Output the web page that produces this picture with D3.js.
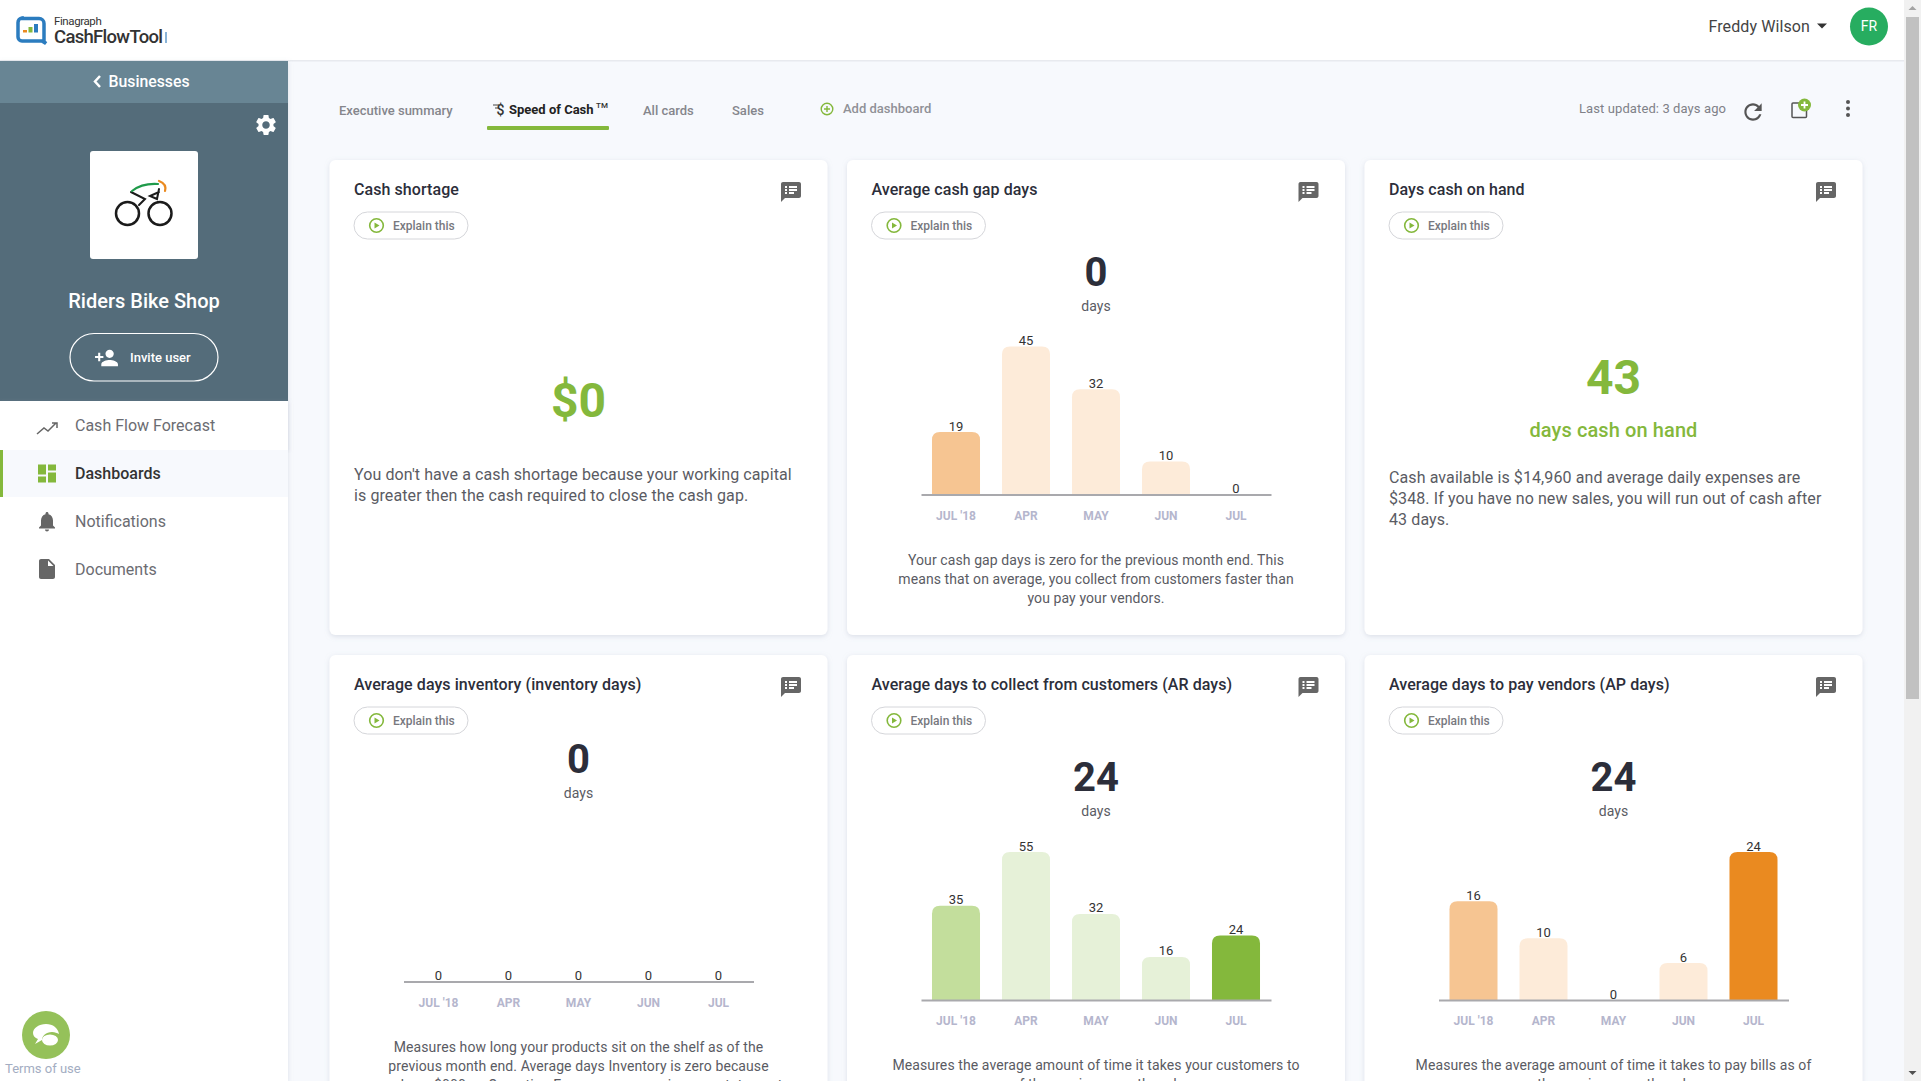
<!DOCTYPE html>
<html>
<head>
<meta charset="utf-8">
<script src="https://cdn.jsdelivr.net/npm/d3@7"></script>
<style>
  html, body { margin: 0; padding: 0; background: #f7f9fd; overflow: hidden; }
  svg { display: block; font-family: Roboto, sans-serif; }
</style>
</head>
<body>
<div class="canvas"></div>
<script>
// chart values
const months = ["JUL '18", "APR", "MAY", "JUN", "JUL"]
const cashGapDays = [19, 45, 32, 10, 0]
const inventoryDays = [0, 0, 0, 0, 0]
const arDays = [35, 55, 32, 16, 24]
const apDays = [16, 10, 0, 6, 24]

// page copy
const tabLabels = ["Executive summary", "Speed of Cash", "All cards", "Sales"]
const menuLabels = ["Cash Flow Forecast", "Dashboards", "Notifications", "Documents"]
const shortageCopy = ["You don't have a cash shortage because your working capital", "is greater then the cash required to close the cash gap."]
const onHandCopy = ["Cash available is $14,960 and average daily expenses are", "$348. If you have no new sales, you will run out of cash after", "43 days."]
const gapCopy = ["Your cash gap days is zero for the previous month end. This", "means that on average, you collect from customers faster than", "you pay your vendors."]
const inventoryCopy = ["Measures how long your products sit on the shelf as of the", "previous month end. Average days Inventory is zero because", "you have $000 as Operating Expenses on your income statement"]
const arCopy = ["Measures the average amount of time it takes your customers to", "of the previous month end."]
const apCopy = ["Measures the average amount of time it takes to pay bills as of", "the previous month end."]

/**
 * Dimensions
 */
const dims = { width: 1921, height: 1081 }
const colX = [329.5, 847, 1364.5]
const cardW = 498
const rowY = [160, 655]
const cardH = [475, 500]

const colors = {
    ink: "#2c2e3a",
    body: "#5a5b63",
    green: "#84b83c",
    axis: "#a9a9ad",
    tick: "#b5b6cd"
}
const orangeBars = { first: "#f6c592", mid: "#fdebd9", last: "#ea8a20" }
const greenBars = { first: "#c3de9c", mid: "#e6f1d8", last: "#84b83c" }

const icons = {
    gear: "M19.14 12.94c.04-.3.06-.61.06-.94 0-.32-.02-.64-.07-.94l2.03-1.58c.18-.14.23-.41.12-.61l-1.92-3.32c-.12-.22-.37-.29-.59-.22l-2.39.96c-.5-.38-1.03-.7-1.62-.94l-.36-2.54c-.04-.24-.24-.41-.48-.41h-3.84c-.24 0-.43.17-.47.41l-.36 2.54c-.59.24-1.13.57-1.62.94l-2.39-.96c-.22-.08-.47 0-.59.22L2.74 8.87c-.12.21-.08.47.12.61l2.03 1.58c-.05.3-.09.63-.09.94s.02.64.07.94l-2.03 1.58c-.18.14-.23.41-.12.61l1.92 3.32c.12.22.37.29.59.22l2.39-.96c.5.38 1.03.7 1.62.94l.36 2.54c.05.24.24.41.48.41h3.84c.24 0 .44-.17.47-.41l.36-2.54c.59-.24 1.13-.56 1.62-.94l2.39.96c.22.08.47 0 .59-.22l1.92-3.32c.12-.22.07-.47-.12-.61l-2.01-1.58zM12 15.6c-1.98 0-3.6-1.62-3.6-3.6s1.62-3.6 3.6-3.6 3.6 1.62 3.6 3.6-1.62 3.6-3.6 3.6z",
    personAdd: "M15 12c2.21 0 4-1.79 4-4s-1.79-4-4-4-4 1.79-4 4 1.79 4 4 4zm-9-2V7H4v3H1v2h3v3h2v-3h3v-2H6zm9 4c-2.67 0-8 1.34-8 4v2h16v-2c0-2.66-5.33-4-8-4z",
    bell: "M12 22c1.1 0 2-.9 2-2h-4c0 1.1.89 2 2 2zm6-6v-5c0-3.07-1.64-5.64-4.5-6.32V4c0-.83-.67-1.5-1.5-1.5s-1.5.67-1.5 1.5v.68C7.63 5.36 6 7.92 6 11v5l-2 2v1h16v-1l-2-2z",
    doc: "M14 2H6c-1.1 0-1.99.9-1.99 2L4 20c0 1.1.89 2 1.99 2H18c1.1 0 2-.9 2-2V8l-6-6zm-1 7V3.500L18.500 9H13z",
    dashboard: "M3 13h8V3H3v10zm0 8h8v-6H3v6zm10 0h8V11h-8v10zm0-18v6h8V3h-8z",
    refresh: "M17.65 6.35C16.2 4.9 14.21 4 12 4c-4.42 0-7.99 3.58-7.99 8s3.57 8 7.99 8c3.73 0 6.84-2.55 7.73-6h-2.08c-.82 2.33-3.04 4-5.65 4-3.31 0-6-2.69-6-6s2.69-6 6-6c1.66 0 3.14.69 4.22 1.78L13 11h7V4l-2.35 2.35z",
    notes: "M20 2H4c-1.1 0-1.99.9-1.99 2L2 22l4-4h14c1.1 0 2-.9 2-2V4c0-1.1-.9-2-2-2zM8 14H6v-2h2v2zm0-3H6V9h2v2zm0-3H6V6h2v2zm7 6h-5v-2h5v2zm3-3h-8V9h8v2zm0-3h-8V6h8v2z"
}

const svg = d3.select(".canvas")
    .append("svg")
    .attr("width", dims.width)
    .attr("height", dims.height)

const defs = svg.append("defs")
const shadow = defs.append("filter").attr("id", "card-shadow")
    .attr("x", "-5%").attr("y", "-5%").attr("width", "110%").attr("height", "110%")
shadow.append("feDropShadow")
    .attr("dx", 0).attr("dy", 1.5).attr("stdDeviation", 2.5)
    .attr("flood-color", "#9aa3b5").attr("flood-opacity", 0.3)

svg.append("rect").attr("width", dims.width).attr("height", dims.height).attr("fill", "#f7f9fd")

// small helpers
const label = (parent, x, y, str, size, fill, weight = 400, anchor = "start") =>
    parent.append("text")
        .attr("x", x)
        .attr("y", y)
        .attr("dy", "0.35em")
        .attr("font-size", size)
        .attr("font-weight", weight)
        .attr("fill", fill)
        .attr("text-anchor", anchor)
        .text(str)

const icon = (parent, d, cx, cy, size, fill) =>
    parent.append("path")
        .attr("d", d)
        .attr("fill", fill)
        .attr("transform", `translate(${cx - size / 2}, ${cy - size / 2}) scale(${size / 24})`)

const copyLines = (parent, lines, x, y, lineH, size, anchor) =>
    lines.forEach((line, i) => {
        label(parent, x, y + i * lineH, line, size, colors.body, 400, anchor)
            .attr("letter-spacing", 0.1)
    })

/**
 * Top bar
 */
const topBar = svg.append("g")
topBar.append("rect").attr("width", dims.width).attr("height", 60).attr("fill", "#fff")
topBar.append("rect").attr("y", 60).attr("width", dims.width).attr("height", 1.5).attr("fill", "#e8eaef")

// logo
topBar.append("path")
    .attr("d", "M22 18.5h17a5 5 0 0 1 5 5v18l2 2l-4 -2.5h-20a4 4 0 0 1 -4 -4v-14.500a4.500 4.500 0 0 1 4 -4.500z")
    .attr("fill", "none").attr("stroke", "#2b7cbf").attr("stroke-width", 3.5)
topBar.append("rect").attr("x", 23).attr("y", 30).attr("width", 4).attr("height", 2.500).attr("fill", "#ea8a20")
topBar.append("rect").attr("x", 28.500).attr("y", 27).attr("width", 4).attr("height", 5.500).attr("fill", "#84b83c")
topBar.append("rect").attr("x", 34).attr("y", 24).attr("width", 4).attr("height", 8.500).attr("fill", "#2b7cbf")
label(topBar, 54, 21, "Finagraph", 11.5, "#333").attr("letter-spacing", -0.4)
label(topBar, 54, 37, "CashFlowTool", 18.5, "#333", 500).attr("letter-spacing", -0.7)
topBar.append("rect").attr("x", 165).attr("y", 32).attr("width", 2).attr("height", 11).attr("fill", "#8ab4d8")

label(topBar, 1708.5, 26, "Freddy Wilson", 16, "#444").attr("letter-spacing", 0.1)
topBar.append("path").attr("d", "M1817 23.500h10l-5 5z").attr("fill", "#333")
topBar.append("circle").attr("cx", 1869).attr("cy", 26.500).attr("r", 19).attr("fill", "#27ad60")
label(topBar, 1869, 26.500, "FR", 14, "#fff", 400, "middle")

/**
 * Sidebar
 */
const side = svg.append("g")
side.append("rect").attr("y", 61).attr("width", 288).attr("height", dims.height - 61)
    .attr("fill", "#fff").attr("filter", "url(#card-shadow)")
side.append("rect").attr("y", 61).attr("width", 288).attr("height", 42).attr("fill", "#688594")
side.append("rect").attr("y", 103).attr("width", 288).attr("height", 298).attr("fill", "#546c7a")
side.append("path").attr("d", "M100 76l-5 5.500l5 5.500").attr("fill", "none")
    .attr("stroke", "#fff").attr("stroke-width", 2.500)
label(side, 108.500, 81.500, "Businesses", 15.8, "#fff", 500)
icon(side, icons.gear, 266, 125, 25, "#fff")

side.append("rect").attr("x", 90).attr("y", 151).attr("width", 108).attr("height", 108).attr("rx", 3).attr("fill", "#fff")
const bike = side.append("g").attr("fill", "none").attr("stroke-linecap", "round")
bike.append("circle").attr("cx", 127.500).attr("cy", 213.500).attr("r", 11.500).attr("stroke", "#1b1b1b").attr("stroke-width", 2.500)
bike.append("circle").attr("cx", 160).attr("cy", 213.500).attr("r", 11.500).attr("stroke", "#1b1b1b").attr("stroke-width", 2.500)
bike.append("path").attr("d", "M131 192l14 7l-6 6M159 189l-2 10l-7 -3l9 -4").attr("stroke", "#1b1b1b").attr("stroke-width", 2)
bike.append("path").attr("d", "M132 191q10 -8 26 -7").attr("stroke", "#1f9a4a").attr("stroke-width", 2.200)
bike.append("path").attr("d", "M159 181q8 3 6 10").attr("stroke", "#ea8a20").attr("stroke-width", 2.200)

label(side, 144, 300.500, "Riders Bike Shop", 20, "#fff", 500, "middle")
side.append("rect").attr("x", 70).attr("y", 333.500).attr("width", 148).attr("height", 47.500).attr("rx", 24)
    .attr("fill", "none").attr("stroke", "#fff").attr("stroke-width", 1.200)
icon(side, icons.personAdd, 106.500, 358, 25, "#fff")
label(side, 130, 357, "Invite user", 13, "#fff", 500)

// menu rows
side.append("rect").attr("y", 401).attr("width", 288).attr("height", 49).attr("fill", "#fff").attr("filter", "url(#card-shadow)")
side.append("rect").attr("y", 450).attr("width", 288).attr("height", 47).attr("fill", "#f7f9fd")
side.append("rect").attr("y", 450).attr("width", 3).attr("height", 47).attr("fill", colors.green)

const menuY = d3.scalePoint().domain(menuLabels).range([425, 569])
menuLabels.forEach((name, i) => {
    label(side, 75, menuY(name), name, 16, i == 1 ? "#333" : "#6b6c72", i == 1 ? 500 : 400)
})
side.append("path").attr("d", "M37 434l7 -6l4 3l8 -8M52 423h5v5")
    .attr("fill", "none").attr("stroke", "#666").attr("stroke-width", 1.500)
icon(side, icons.dashboard, 47, 473.500, 24, colors.green)
icon(side, icons.bell, 47, 521.500, 24, "#666")
icon(side, icons.doc, 47, 569, 24, "#666")

side.append("circle").attr("cx", 46).attr("cy", 1035).attr("r", 24).attr("fill", "#95c15a")
side.append("path").attr("d", "M46 1024c-7 0 -13 4 -13 9c0 3 2 5 5 6l-3 5l7 -4c0 -4 4 -8 10 -8c3 0 5 1 7 2c-1 -6 -6 -10 -13 -10z").attr("fill", "#fff")
side.append("ellipse").attr("cx", 50).attr("cy", 1040).attr("rx", 8).attr("ry", 5.500).attr("fill", "#fff")
label(side, 5, 1068, "Terms of use", 13, "#a3adc2")

/**
 * Tabs row
 */
const tabs = svg.append("g")
const tabX = [339, 509, 643, 732]
tabLabels.forEach((name, i) => {
    label(tabs, tabX[i], i == 1 ? 109 : 110, name, 13, i == 1 ? "#222" : "#85868c", i == 1 ? 700 : 500)
})
tabs.append("path").attr("d", "M493 105h6M495 108h4").attr("stroke", "#444").attr("stroke-width", 1)
label(tabs, 500.500, 110, "$", 14, "#333", 500, "middle")
label(tabs, 596, 105, "TM", 8, "#333", 500)
tabs.append("rect").attr("x", 487).attr("y", 126).attr("width", 122).attr("height", 4).attr("rx", 1).attr("fill", colors.green)
tabs.append("circle").attr("cx", 827).attr("cy", 109).attr("r", 5.800).attr("fill", "none").attr("stroke", colors.green).attr("stroke-width", 1.400)
tabs.append("path").attr("d", "M824 109h6M827 106v6").attr("stroke", colors.green).attr("stroke-width", 1.400)
label(tabs, 843, 108.500, "Add dashboard", 13, "#909197", 500)

label(tabs, 1579, 108.500, "Last updated: 3 days ago", 13, "#808188").attr("letter-spacing", 0.1)
icon(tabs, icons.refresh, 1753, 112, 26, "#555")
tabs.append("rect").attr("x", 1792).attr("y", 103).attr("width", 14.500).attr("height", 14.500).attr("rx", 1)
    .attr("fill", "none").attr("stroke", "#555").attr("stroke-width", 1.500)
tabs.append("circle").attr("cx", 1804.500).attr("cy", 105).attr("r", 6.500).attr("fill", colors.green)
tabs.append("path").attr("d", "M1801 105h7M1804.500 101.500v7").attr("stroke", "#fff").attr("stroke-width", 1.800)
d3.range(3).forEach(i => {
    tabs.append("circle").attr("cx", 1848).attr("cy", 102 + i * 6.500).attr("r", 2).attr("fill", "#555")
})

/**
 * Cards
 */
const drawCard = (col, row, title) => {
    const x = colX[col]
    const y = rowY[row]
    const card = svg.append("g")
    card.append("rect")
        .attr("x", x).attr("y", y)
        .attr("width", cardW).attr("height", cardH[row])
        .attr("rx", 6)
        .attr("fill", "#fff")
        .attr("filter", "url(#card-shadow)")

    label(card, x + 24.5, y + 29.500, title, 16, colors.ink, 500).attr("letter-spacing", 0.07)
    icon(card, icons.notes, x + 461.5, y + 32, 24, "#666")

    // explain pill
    card.append("rect")
        .attr("x", x + 24.500).attr("y", y + 52)
        .attr("width", 114).attr("height", 27)
        .attr("rx", 13.5)
        .attr("fill", "#fff").attr("stroke", "#d5d6da")
    card.append("circle").attr("cx", x + 47).attr("cy", y + 65.500).attr("r", 6.800)
        .attr("fill", "none").attr("stroke", colors.green).attr("stroke-width", 1.600)
    card.append("path")
        .attr("d", `M${x + 45} ${y + 62.500}l5 3l-5 3z`)
        .attr("fill", colors.green)
    label(card, x + 63.500, y + 65.500, "Explain this", 12, "#77787e", 500)
    return card
}

// draws one bar chart through its scales and axis
const drawBars = (card, col, axisY, series, palette) => {
    const left = colX[col] + 74
    const x = d3.scaleBand()
        .domain(months)
        .range([left, left + 350])
        .paddingInner(0.314)
        .paddingOuter(0.157)
    const y = d3.scaleLinear()
        .domain([0, d3.max(series) || 1])
        .range([axisY, axisY - 148])

    const fill = i => i == 0 ? palette.first : i == series.length - 1 ? palette.last : palette.mid
    const r = 8

    card.selectAll(".bar")
        .data(series.map((v, i) => ({ v, i, name: months[i] })).filter(d => d.v > 0))
        .enter()
        .append("path")
        .attr("class", "bar")
        .attr("fill", d => fill(d.i))
        .attr("d", d => {
            const px = x(d.name)
            const w = x.bandwidth()
            const top = y(d.v)
            return `M${px} ${axisY}V${top + r}Q${px} ${top} ${px + r} ${top}H${px + w - r}Q${px + w} ${top} ${px + w} ${top + r}V${axisY}Z`
        })

    card.selectAll(".value")
        .data(series)
        .enter()
        .append("text")
        .attr("class", "value")
        .attr("x", (d, i) => x(months[i]) + x.bandwidth() / 2)
        .attr("y", d => y(d) - 1.500)
        .attr("text-anchor", "middle")
        .attr("font-size", 13)
        .attr("fill", "#333")
        .text(d => d)

    const axis = card.append("g")
        .attr("transform", `translate(0, ${axisY})`)
        .call(d3.axisBottom(x).tickSize(0).tickPadding(16.5))
    axis.select(".domain").attr("stroke", colors.axis).attr("stroke-width", 2)
    axis.selectAll("text")
        .attr("font-family", "Roboto, sans-serif")
        .attr("font-size", 12)
        .attr("font-weight", 700)
        .attr("fill", colors.tick)
}

const bigNumber = (card, col, y, str) => {
    const cx = colX[col] + cardW / 2
    label(card, cx, y, str, 40, colors.ink, 700, "middle")
    label(card, cx, y + 35, "days", 14, colors.body, 400, "middle")
}

const center = col => colX[col] + cardW / 2

// Cash shortage
const shortageCard = drawCard(0, 0, "Cash shortage")
label(shortageCard, center(0), 400.500, "$0", 48, colors.green, 700, "middle")
copyLines(shortageCard, shortageCopy, colX[0] + 24.5, 474, 21, 16, "start")

// Average cash gap days
const gapCard = drawCard(1, 0, "Average cash gap days")
bigNumber(gapCard, 1, 271.500, "0")
drawBars(gapCard, 1, 494.500, cashGapDays, orangeBars)
copyLines(gapCard, gapCopy, center(1), 560, 19, 14, "middle")

// Days cash on hand
const handCard = drawCard(2, 0, "Days cash on hand")
label(handCard, center(2), 377, "43", 48, colors.green, 700, "middle")
label(handCard, center(2), 430, "days cash on hand", 20, colors.green, 500, "middle").attr("letter-spacing", 0.1)
copyLines(handCard, onHandCopy, colX[2] + 24.5, 477, 21, 16, "start")

// Average days inventory
const inventoryCard = drawCard(0, 1, "Average days inventory (inventory days)")
bigNumber(inventoryCard, 0, 758.500, "0")
drawBars(inventoryCard, 0, 981.500, inventoryDays, orangeBars)
copyLines(inventoryCard, inventoryCopy, center(0), 1047, 19, 14, "middle")

// Average days to collect from customers
const arCard = drawCard(1, 1, "Average days to collect from customers (AR days)")
bigNumber(arCard, 1, 776.500, "24")
drawBars(arCard, 1, 1000, arDays, greenBars)
copyLines(arCard, arCopy, center(1), 1065, 19, 14, "middle")

// Average days to pay vendors
const apCard = drawCard(2, 1, "Average days to pay vendors (AP days)")
bigNumber(apCard, 2, 776.500, "24")
drawBars(apCard, 2, 1000, apDays, orangeBars)
copyLines(apCard, apCopy, center(2), 1065, 19, 14, "middle")

/**
 * Scrollbar
 */
const scroll = svg.append("g")
scroll.append("rect").attr("x", 1904).attr("width", 17).attr("height", dims.height).attr("fill", "#f1f1f1")
scroll.append("rect").attr("x", 1906).attr("y", 17).attr("width", 13).attr("height", 682).attr("fill", "#c1c1c1")
scroll.append("path").attr("d", "M1912.500 6l-4 4h8z").attr("fill", "#a3a3a3")
scroll.append("path").attr("d", "M1912.500 1075l-4 -4h8z").attr("fill", "#505050")
</script>
</body>
</html>
